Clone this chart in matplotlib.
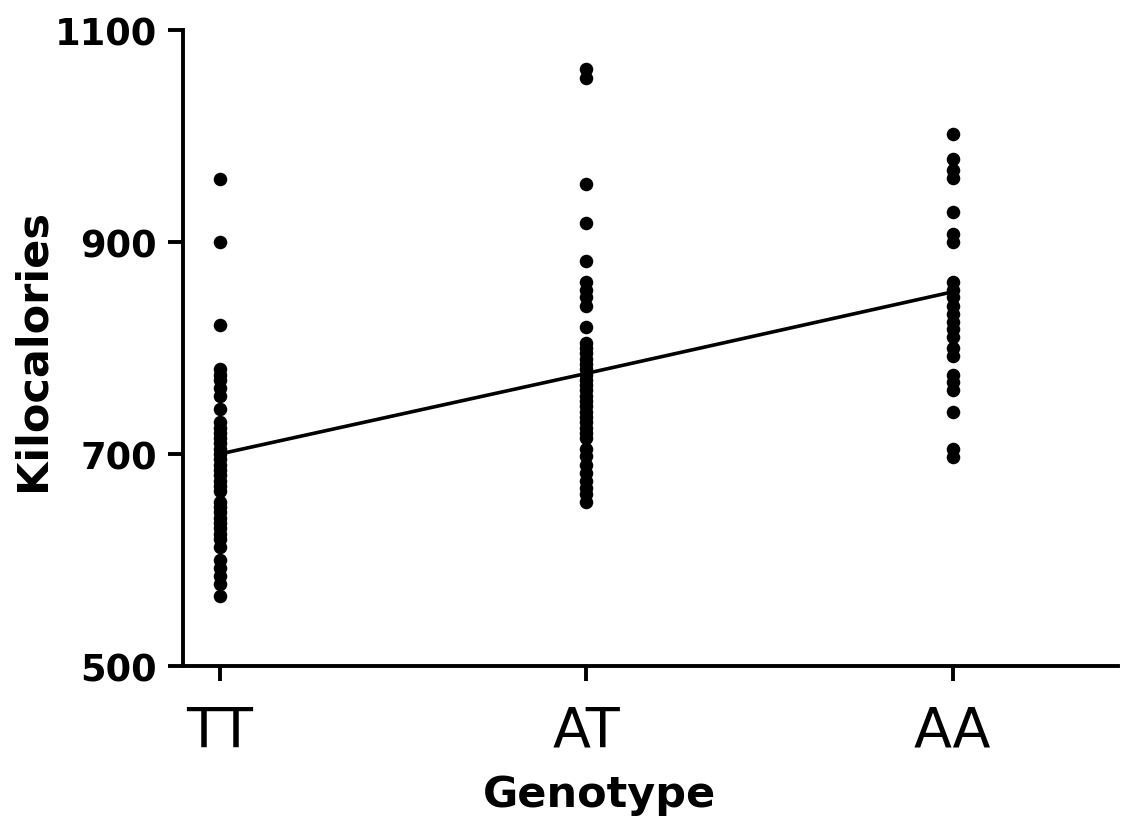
import matplotlib
matplotlib.use("Agg")
import matplotlib.pyplot as plt

categories = ["TT", "AT", "AA"]
tt_values = [959, 900, 822, 780, 775, 770, 762, 755, 742, 730, 725, 720, 715, 710,
             705, 700, 695, 690, 685, 680, 675, 670, 665, 655, 650, 645, 640, 635,
             630, 625, 620, 612, 600, 592, 585, 577, 566]
at_values = [1063, 1055, 955, 918, 882, 862, 855, 848, 840, 820, 805, 800, 795, 790,
             785, 780, 775, 770, 765, 760, 755, 750, 745, 740, 735, 730, 725, 720,
             715, 705, 698, 690, 682, 675, 668, 662, 655]
aa_values = [1002, 978, 968, 960, 928, 908, 900, 862, 855, 848, 840, 832, 825, 818,
             810, 800, 792, 775, 768, 760, 740, 705, 697]
fit_values = [700, 776, 853]
y_ticks = [500, 700, 900, 1100]

plt.rcParams['font.family'] = ['DejaVu Sans']

fig = plt.figure(figsize=(11.44, 8.29), dpi=100)
ax = fig.add_axes([0.16, 0.1954, 0.817, 0.7672])

groups = [tt_values, at_values, aa_values]
for i, vals in enumerate(groups):
    ax.scatter([i] * len(vals), vals, s=95, color="black", zorder=3, linewidths=0)

ax.plot(range(len(categories)), fit_values, color="black", linewidth=2.6, zorder=4)

ax.set_xlim(-0.1, 2.45)
ax.set_ylim(500, 1100)
ax.set_xticks(range(len(categories)))
ax.set_xticklabels(categories, fontsize=40)
ax.set_yticks(y_ticks)
ax.set_yticklabels([str(t) for t in y_ticks], fontsize=26.5, fontweight="bold")

for s in ["top", "right"]:
    ax.spines[s].set_visible(False)
for s in ["left", "bottom"]:
    ax.spines[s].set_linewidth(2.8)
ax.tick_params(axis="both", width=2.8, length=11, direction="out")
ax.tick_params(axis="y", pad=8)
ax.tick_params(axis="x", pad=16)

ax.set_xlabel("Genotype", fontsize=31, fontweight="bold")
ax.set_ylabel("Kilocalories", fontsize=31, fontweight="bold")
ax.xaxis.set_label_coords(0.446, -0.168)
ax.yaxis.set_label_coords(-0.139, 0.498)

fig.savefig("out.png", dpi=100)
